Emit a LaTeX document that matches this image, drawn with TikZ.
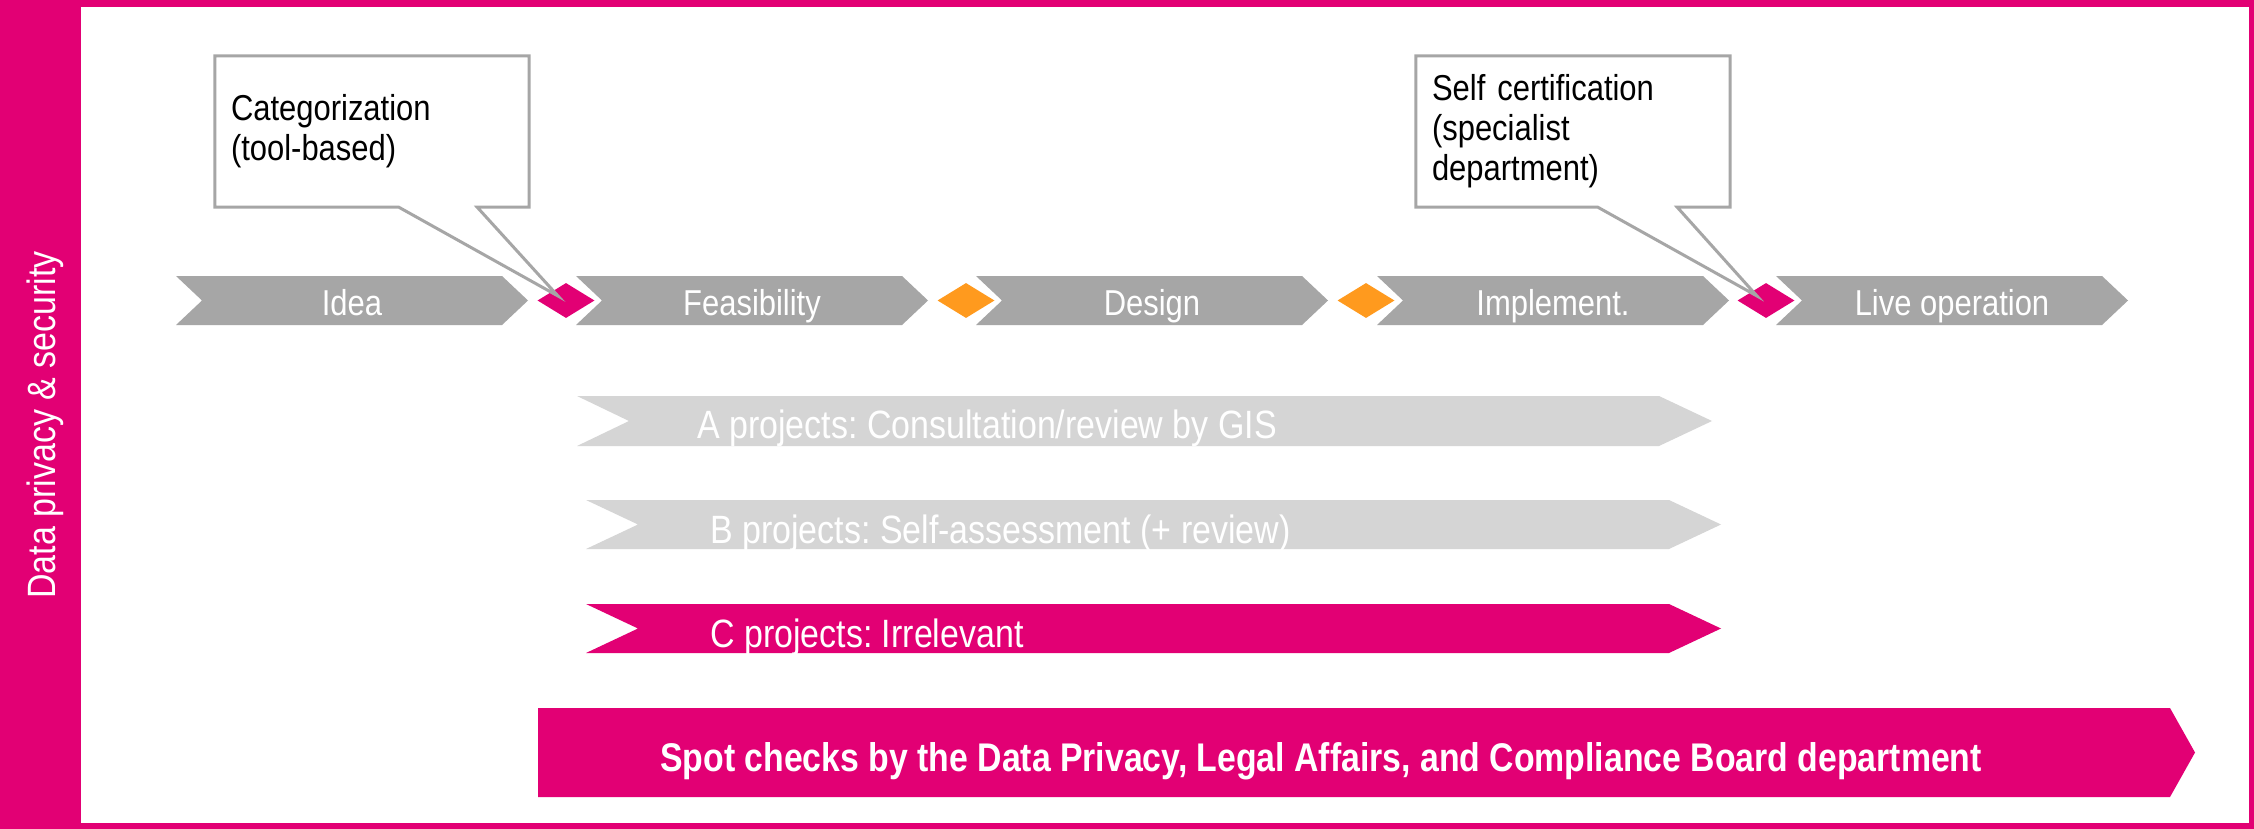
\documentclass[tikz,border=0pt]{standalone}
\usepackage{fontspec}
\setmainfont[FakeStretch=0.86,BoldFeatures={FakeStretch=0.845}]{Liberation Sans}
\frenchspacing
\usetikzlibrary{calc,shapes.geometric}

\definecolor{tmagenta}{HTML}{E20074}
\definecolor{tgrey}{HTML}{A6A6A6}
\definecolor{tlightgrey}{HTML}{D5D5D5}
\definecolor{torange}{HTML}{FF9A1E}

\tikzset{
  phase/.style={fill=tgrey},
  phaselabel/.style={text=white, font=\fontsize{36}{42}\selectfont, anchor=base, inner sep=0pt},
  gate/.style={diamond, minimum width=57pt, minimum height=35pt, inner sep=0pt},
  calloutbox/.style={minimum width=314pt, minimum height=151pt, inner xsep=16pt, inner ysep=0pt,
    text width=282pt, align=left, font=\fontsize{36}{40}\selectfont},
  calloutline/.style={draw=tgrey, line width=3pt, line join=miter},
  tracklabel/.style={text=white, font=\fontsize{39.5}{44}\selectfont, anchor=base west, inner sep=0pt},
  spotlabel/.style={text=white, font=\bfseries\fontsize{40}{46}\selectfont, anchor=base west, inner sep=0pt},
  sidelabel/.style={text=white, font=\fontsize{39.5}{44}\selectfont, anchor=base, inner sep=0pt}
}

\begin{document}
\begin{tikzpicture}[x=1pt,y=-1pt]
\useasboundingbox (0,0) rectangle (2254,829);
% frame
\fill[tmagenta] (0,0) rectangle (2254,829);
\fill[white] (81,7) rectangle (2249,823);
\node[sidelabel,rotate=90] (side) at (55,425) {Data privacy \& security};

% phases
\fill[phase] (176,276) -- ++(326,0) -- ++(26,24.5) -- ++(-26,24.5) -- ++(-326,0) -- ++(26,-24.5) -- cycle;
\fill[phase] (576,276) -- ++(326,0) -- ++(26,24.5) -- ++(-26,24.5) -- ++(-326,0) -- ++(26,-24.5) -- cycle;
\fill[phase] (976,276) -- ++(326,0) -- ++(26,24.5) -- ++(-26,24.5) -- ++(-326,0) -- ++(26,-24.5) -- cycle;
\fill[phase] (1377,276) -- ++(326,0) -- ++(26,24.5) -- ++(-26,24.5) -- ++(-326,0) -- ++(26,-24.5) -- cycle;
\fill[phase] (1776,276) -- ++(326,0) -- ++(26,24.5) -- ++(-26,24.5) -- ++(-326,0) -- ++(26,-24.5) -- cycle;
\node[phaselabel] (idea) at (352,315) {Idea};
\node[phaselabel] (feas) at (752,315) {Feasibility};
\node[phaselabel] (design) at (1152,315) {Design};
\node[phaselabel] (impl) at (1553,315) {Implement.};
\node[phaselabel] (live) at (1952,315) {Live operation};

% gates
\node[gate,fill=tmagenta] (g1) at (566,300.5) {};
\node[gate,fill=torange] (g2) at (966,300.5) {};
\node[gate,fill=torange] (g3) at (1366,300.5) {};
\node[gate,fill=tmagenta] (g4) at (1766,300.5) {};

% project classes
\fill[tlightgrey] (577,396) -- (1659,396) -- (1712,421) -- (1659,446) -- (577,446) -- (629,421) -- cycle;
\fill[tlightgrey] (586,500) -- (1669,500) -- (1721,524.5) -- (1669,549) -- (586,549) -- (638,524.5) -- cycle;
\fill[tmagenta] (586,604) -- (1669,604) -- (1721,628.5) -- (1669,653) -- (586,653) -- (638,628.5) -- cycle;
\node[tracklabel] (aproj) at (697,438) {A projects: Consultation/review by GIS};
\node[tracklabel] (bproj) at (710,543) {B projects: Self-assessment (+ review)};
\node[tracklabel] (cproj) at (710,647) {C projects: Irrelevant};

% spot checks
\fill[tmagenta] (538,708) -- (2170,708) -- (2195,752.5) -- (2170,797) -- (538,797) -- cycle;
\node[spotlabel] (spot) at (660,771) {Spot checks by the Data Privacy, Legal Affairs, and Compliance Board department};

% callouts
\node[calloutbox] (catbox) at (372,131.5) {Categorization\\(tool-based)};
\coordinate (cattip) at (558,296);
\draw[calloutline] (catbox.south west) -- (catbox.north west) -- (catbox.north east) -- (catbox.south east)
  -- ++(-52,0) -- (cattip) -- ($(catbox.south west)+(184,0)$) -- cycle;
\node[calloutbox] (certbox) at (1573,131.5) {Self certification\\(specialist\\department)};
\coordinate (certtip) at (1757,296);
\draw[calloutline] (certbox.south west) -- (certbox.north west) -- (certbox.north east) -- (certbox.south east)
  -- ++(-53,0) -- (certtip) -- ($(certbox.south west)+(182,0)$) -- cycle;
\end{tikzpicture}
\end{document}
